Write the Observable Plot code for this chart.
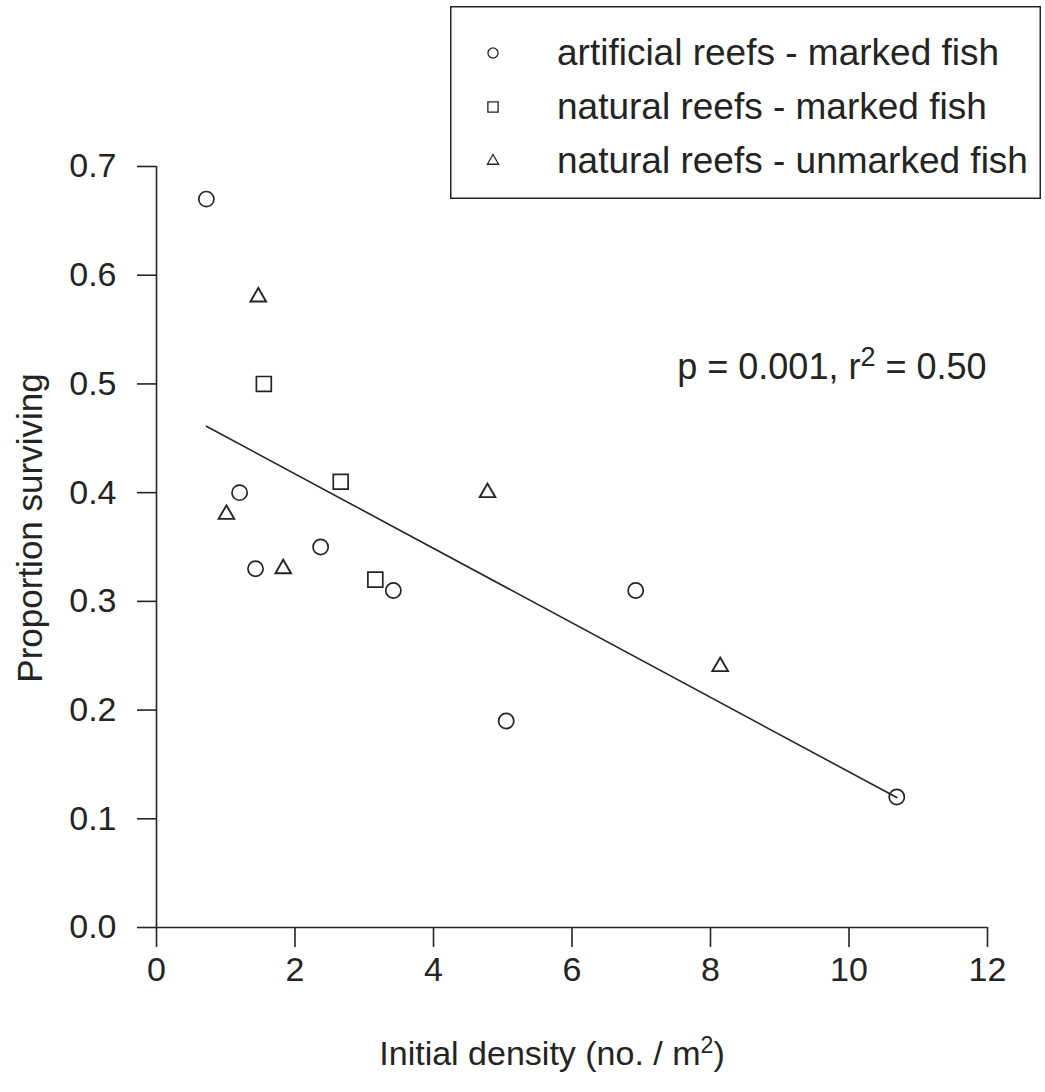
<!DOCTYPE html>
<html>
<head>
<meta charset="utf-8">
<script src="https://cdn.jsdelivr.net/npm/d3@7"></script>
<script src="https://cdn.jsdelivr.net/npm/@observablehq/plot@0.6"></script>
<style>
  html, body { margin: 0; padding: 0; background: #fff; }
  #wrap { position: relative; width: 1045px; height: 1092px; font-family: "Liberation Sans", Arial, sans-serif; color: #222; }
  #legend { position: absolute; left: 450px; top: 6px; }
</style>
</head>
<body>
<div id="wrap"></div>
<script>
// Survival of recruits vs. initial density, three reef/marking groups
const artificialX = [0.72, 1.20, 1.43, 2.37, 3.42, 5.05, 6.92, 10.69];
const artificialY = [0.67, 0.40, 0.33, 0.35, 0.31, 0.19, 0.31, 0.12];

const naturalMarkedX = [1.55, 2.66, 3.16];
const naturalMarkedY = [0.50, 0.41, 0.32];

const naturalUnmarkedX = [1.47, 1.01, 1.83, 4.78, 8.14];
const naturalUnmarkedY = [0.58, 0.38, 0.33, 0.40, 0.24];

const seriesNames = [
  "artificial reefs - marked fish",
  "natural reefs - marked fish",
  "natural reefs - unmarked fish"
];

const xTicks = [0, 2, 4, 6, 8, 10, 12];
const yTicks = [0.0, 0.1, 0.2, 0.3, 0.4, 0.5, 0.6, 0.7];

const yTitle = "Proportion surviving";
const xTitleParts = ["Initial density (no. / m", "2", ")"];
const statsParts = ["p = 0.001, r", "2", " = 0.50"];

const ink = "#242424";
const font = "Liberation Sans, Arial, sans-serif";

const toRows = (xs, ys, group) => xs.map((x, i) => ({x, y: ys[i], group}));
const artificial = toRows(artificialX, artificialY, seriesNames[0]);
const naturalMarked = toRows(naturalMarkedX, naturalMarkedY, seriesNames[1]);
const naturalUnmarked = toRows(naturalUnmarkedX, naturalUnmarkedY, seriesNames[2]);
const allPoints = [...artificial, ...naturalMarked, ...naturalUnmarked];

const chart = Plot.plot({
  width: 1045,
  height: 1092,
  marginLeft: 156,
  marginRight: 58,
  marginTop: 166,
  marginBottom: 165,
  style: {fontFamily: font, fontSize: "34px", color: ink, background: "transparent", overflow: "visible"},
  x: {domain: [0, 12]},
  y: {domain: [0, 0.7]},
  marks: [
    Plot.axisY({ticks: yTicks, tickSize: 19, tickPadding: 21, tickFormat: d3.format(".1f"),
                label: null, strokeWidth: 1.6, fontSize: 34}),
    Plot.axisX({ticks: xTicks, tickSize: 20, tickPadding: 9, tickFormat: d3.format("d"),
                label: null, strokeWidth: 1.6, fontSize: 34}),
    Plot.ruleX([0], {stroke: ink, strokeWidth: 1.6}),
    Plot.ruleY([0], {stroke: ink, strokeWidth: 1.6}),
    // least-squares fit over all groups
    Plot.linearRegressionY(allPoints, {x: "x", y: "y", ci: 0, stroke: ink, strokeWidth: 1.6}),
    Plot.dot(artificial, {x: "x", y: "y", symbol: "circle", r: 7.6, stroke: ink, strokeWidth: 1.7, fill: "none"}),
    Plot.dot(naturalMarked, {x: "x", y: "y", symbol: "square", r: 8.4, stroke: ink, strokeWidth: 1.7, fill: "none"}),
    Plot.dot(naturalUnmarked, {x: "x", y: "y", symbol: "triangle", r: 5.8, stroke: ink, strokeWidth: 1.9, fill: "none"}),
    Plot.text([yTitle], {frameAnchor: "left", textAnchor: "middle", rotate: -90, dx: -126, dy: -19,
                         fontSize: 35, fill: ink}),
    Plot.text([xTitleParts.join("")], {frameAnchor: "bottom", textAnchor: "middle", dx: -20, dy: 137,
                                       lineAnchor: "bottom", fontSize: 34, fill: ink}),
    Plot.text([statsParts.join("")], {x: [7.52], y: [0.515], textAnchor: "start", fontSize: 36, fill: ink})
  ]
});

// raise the "2" in the x title and the r² annotation
function superscript(svg, parts, scale) {
  d3.select(svg).selectAll("text")
    .filter(function () { return this.textContent === parts.join(""); })
    .each(function () {
      const t = d3.select(this);
      t.text(null);
      t.append("tspan").text(parts[0]);
      t.append("tspan").attr("dy", "-0.5em").attr("font-size", `${scale}em`).text(parts[1]);
      t.append("tspan").attr("dy", `${0.5 * scale}em`).text(parts[2]);
    });
}
superscript(chart, xTitleParts, 0.68);
superscript(chart, statsParts, 0.75);

const wrap = document.getElementById("wrap");
wrap.appendChild(chart);

// legend box
const legendW = 591, legendH = 193;
const legendDiv = d3.select(wrap).append("div").attr("id", "legend");
const lsvg = legendDiv.append("svg").attr("width", legendW).attr("height", legendH);
lsvg.append("rect").attr("x", 0.75).attr("y", 0.75).attr("width", legendW - 1.5).attr("height", legendH - 1.5)
  .attr("fill", "#fff").attr("stroke", ink).attr("stroke-width", 1.5);
const legendSymbols = [
  {type: d3.symbolCircle, size: 80},
  {type: d3.symbolSquare, size: 105},
  {type: d3.symbolTriangle, size: 55}
];
seriesNames.forEach((name, i) => {
  const cy = 47 + i * 54;
  lsvg.append("path")
    .attr("d", d3.symbol(legendSymbols[i].type, legendSymbols[i].size)())
    .attr("transform", `translate(43,${cy})`)
    .attr("fill", "none").attr("stroke", ink).attr("stroke-width", 1.3);
  lsvg.append("text")
    .attr("x", 107).attr("y", cy + 12)
    .attr("font-family", font).attr("font-size", 37).attr("fill", ink)
    .text(name);
});
</script>
</body>
</html>
